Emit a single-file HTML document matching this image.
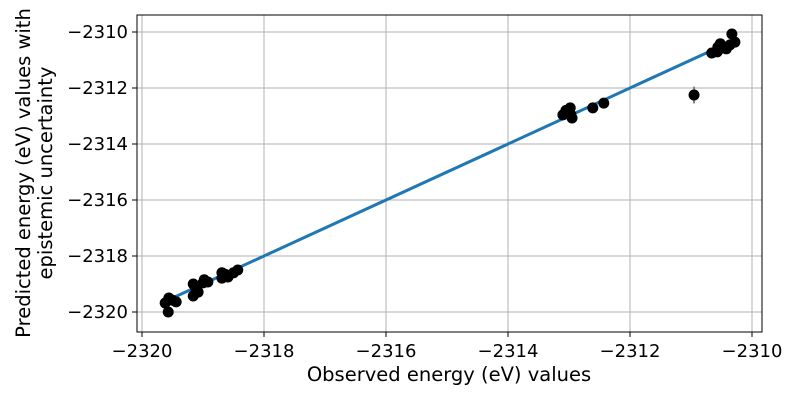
<!DOCTYPE html>
<html><head><meta charset="utf-8"><style>
body{margin:0;background:#fff}
svg text{font-family:"DejaVu Sans","Liberation Sans",sans-serif;fill:#000}
</style></head><body>
<svg id="chart" width="800" height="400" xmlns="http://www.w3.org/2000/svg">
<g id="grid"></g>
<g id="fit"></g>
<g id="pts"></g>
<rect x="137" y="15" width="625" height="317" fill="none" stroke="#000" stroke-width="1"/>
<g id="ticks"></g>
<text x="449" y="381" font-size="19.5" text-anchor="middle">Observed energy (eV) values</text>
<text transform="translate(30,173) rotate(-90)" font-size="19.5" text-anchor="middle"><tspan x="0" dy="0">Predicted energy (eV) values with</tspan><tspan x="0" dy="22">epistemic uncertainty</tspan></text>
</svg>
<script>
const xTicks=[-2320,-2318,-2316,-2314,-2312,-2310];
const yTicks=[-2320,-2318,-2316,-2314,-2312,-2310];
const observed=[-2319.57,-2319.56,-2319.62,-2319.44,-2319.5,-2319.16,-2319.16,-2319.08,-2319.12,-2319.0,-2318.92,-2318.98,-2318.69,-2318.69,-2318.59,-2318.64,-2318.5,-2318.43,-2312.98,-2313.1,-2312.95,-2313.02,-2312.97,-2313.05,-2312.61,-2312.43,-2310.33,-2310.66,-2310.56,-2310.48,-2310.36,-2310.28,-2310.57,-2310.42,-2310.52,-2310.95];
const predicted=[-2320.0,-2319.5,-2319.68,-2319.64,-2319.58,-2319.0,-2319.43,-2319.29,-2319.15,-2318.96,-2318.93,-2318.85,-2318.6,-2318.79,-2318.75,-2318.65,-2318.6,-2318.5,-2312.71,-2312.96,-2313.07,-2312.86,-2312.95,-2312.8,-2312.71,-2312.54,-2310.07,-2310.75,-2310.54,-2310.57,-2310.46,-2310.36,-2310.71,-2310.6,-2310.42,-2312.25];
const uncertainty=[0.05,0.05,0.05,0.05,0.05,0.05,0.05,0.05,0.05,0.05,0.05,0.05,0.05,0.05,0.05,0.05,0.05,0.05,0.05,0.05,0.05,0.05,0.05,0.05,0.05,0.05,0.08,0.05,0.05,0.05,0.05,0.05,0.05,0.05,0.05,0.3];
const X=v=>142+(v+2320)*61, Y=v=>312-(v+2320)*28;
const NS="http://www.w3.org/2000/svg";
function mk(p,t,a){const e=document.createElementNS(NS,t);for(const k in a)e.setAttribute(k,a[k]);p.appendChild(e);return e;}
const g=document.getElementById('grid'),tk=document.getElementById('ticks');
xTicks.forEach(v=>{
 const l=mk(g,'line',{x1:X(v),x2:X(v),y1:15,y2:332,stroke:'#b0b0b0','stroke-width':1});
 
 
 mk(tk,'line',{x1:X(v),x2:X(v),y1:332,y2:337,stroke:'#000'});
 const t=mk(tk,'text',{x:X(v),y:357,'font-size':18,'text-anchor':'middle'});t.textContent='\u2212'+Math.abs(v);
 
 
});
yTicks.forEach(v=>{
 const l=mk(g,'line',{x1:137,x2:762,y1:Y(v),y2:Y(v),stroke:'#b0b0b0','stroke-width':1});
 
 
 mk(tk,'line',{x1:132,x2:137,y1:Y(v),y2:Y(v),stroke:'#000'});
 const t=mk(tk,'text',{x:128,y:Y(v)+6,'font-size':18,'text-anchor':'end'});t.textContent='\u2212'+Math.abs(v);
 
 
});
const mn=Math.min(...observed),mx=Math.max(...observed);
const fl=mk(document.getElementById('fit'),'line',{x1:X(mn),y1:Y(mn),x2:X(mx),y2:Y(mx),stroke:'#1f77b4','stroke-width':3});


const pg=document.getElementById('pts');
observed.forEach((o,i)=>{
 const p=predicted[i],u=uncertainty[i];
 const eb=mk(pg,'line',{x1:X(o),x2:X(o),y1:Y(p+u),y2:Y(p-u),stroke:'#808080','stroke-width':2});
 
 
 const c=mk(pg,'circle',{cx:X(o),cy:Y(p),r:5.5,fill:'#000'});
 
 
});
</script>
</body></html>
